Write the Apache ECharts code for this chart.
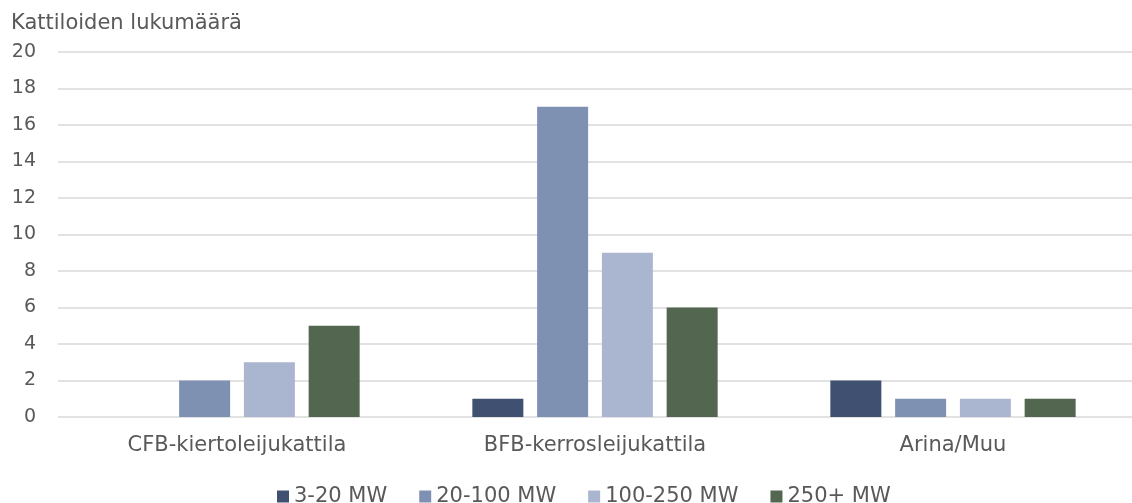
<!DOCTYPE html>
<html>
<head>
<meta charset="utf-8">
<script src="https://cdn.jsdelivr.net/npm/echarts@6/dist/echarts.min.js"></script>
<style>
  html, body { margin: 0; padding: 0; background: #ffffff; }
  #chart { width: 1132px; height: 503px; }
</style>
</head>
<body>
<div id="chart"></div>
<script>
// Boiler counts by boiler type and capacity class
const categories = ['CFB-kiertoleijukattila', 'BFB-kerrosleijukattila', 'Arina/Muu'];
const seriesNames = ['3-20 MW', '20-100 MW', '100-250 MW', '250+ MW'];
const values_3_20 = [0, 1, 2];
const values_20_100 = [2, 17, 1];
const values_100_250 = [3, 9, 1];
const values_250plus = [5, 6, 1];
const yTicks = { min: 0, max: 20, interval: 2 };

const colors = ['#3f5070', '#7f91b3', '#aab6cf', '#536650'];
const seriesValues = [values_3_20, values_20_100, values_100_250, values_250plus];
const font = '"DejaVu Sans"';
const textColor = '#595959';

const chart = echarts.init(document.getElementById('chart'), null, { renderer: 'canvas' });
chart.setOption({
  animation: false,
  color: colors,
  title: {
    text: 'Kattiloiden lukumäärä',
    left: 6,
    top: 8,
    textStyle: { fontFamily: font, fontSize: 21, fontWeight: 'normal', color: textColor }
  },
  legend: {
    top: 481,
    left: 272,
    itemWidth: 12,
    itemHeight: 12,
    itemGap: 32,
    icon: 'rect',
    textStyle: { fontFamily: font, fontSize: 21, color: textColor, padding: [0, 0, 0, 0] },
    data: seriesNames
  },
  grid: { left: 58, right: 0, top: 52, bottom: 86, containLabel: false },
  xAxis: {
    type: 'category',
    data: categories,
    axisLine: { show: false },
    axisTick: { show: false },
    axisLabel: { fontFamily: font, fontSize: 21, color: textColor, margin: 18 }
  },
  yAxis: {
    type: 'value',
    min: yTicks.min,
    max: yTicks.max,
    interval: yTicks.interval,
    axisLine: { show: false },
    axisTick: { show: false },
    axisLabel: { fontFamily: font, fontSize: 19, color: textColor, margin: 22 },
    splitLine: { lineStyle: { color: '#d9d9d9', width: 1.5 } }
  },
  series: seriesNames.map((name, i) => ({
    name,
    type: 'bar',
    data: seriesValues[i],
    barWidth: 51,
    barGap: '27%',
    itemStyle: { color: colors[i] }
  }))
});
</script>
</body>
</html>
